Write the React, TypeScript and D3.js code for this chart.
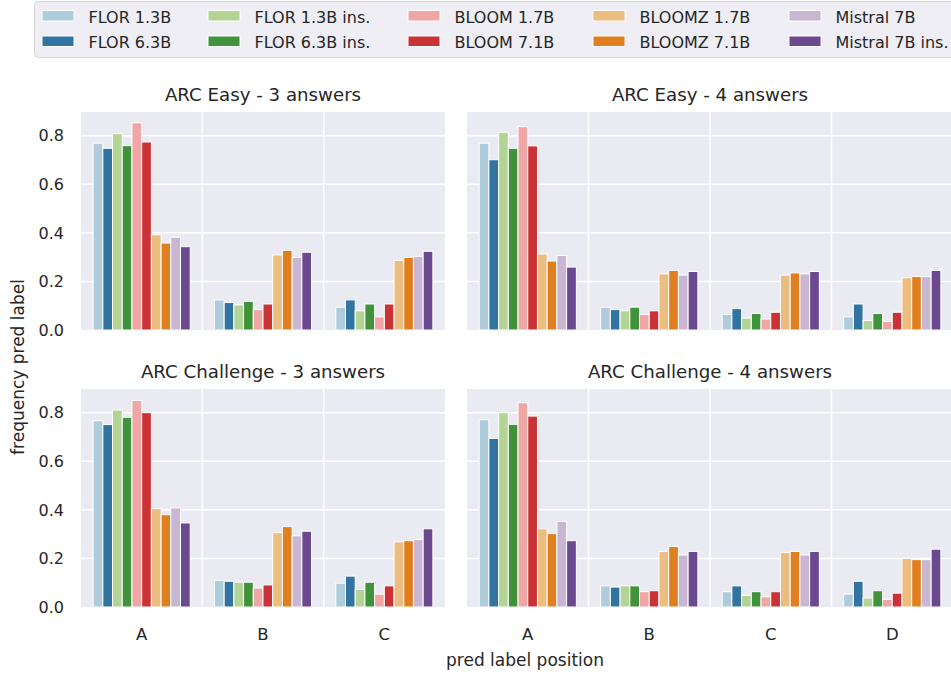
import React from 'react';
import * as d3 from 'd3';

// ---------- DATA ----------
const models = [
  'FLOR 1.3B', 'FLOR 6.3B', 'FLOR 1.3B ins.', 'FLOR 6.3B ins.',
  'BLOOM 1.7B', 'BLOOM 7.1B', 'BLOOMZ 1.7B', 'BLOOMZ 7.1B',
  'Mistral 7B', 'Mistral 7B ins.',
];
const baseColors = [
  '#a6cee3', '#1f78b4', '#b2df8a', '#33a02c', '#fb9a99',
  '#e31a1c', '#fdbf6f', '#ff7f00', '#cab2d6', '#6a3d9a',
];
const cats3 = ['A', 'B', 'C'];
const cats4 = ['A', 'B', 'C', 'D'];
const yTicks = [0, 0.2, 0.4, 0.6, 0.8];

// values[category][model]
const easy3 = [
  [0.769, 0.748, 0.808, 0.759, 0.853, 0.774, 0.392, 0.358, 0.382, 0.343],
  [0.124, 0.113, 0.103, 0.118, 0.084, 0.107, 0.309, 0.328, 0.299, 0.320],
  [0.094, 0.124, 0.079, 0.107, 0.054, 0.107, 0.286, 0.299, 0.303, 0.324],
];
const easy4 = [
  [0.769, 0.701, 0.814, 0.748, 0.837, 0.758, 0.313, 0.284, 0.307, 0.259],
  [0.094, 0.084, 0.079, 0.094, 0.064, 0.079, 0.231, 0.245, 0.226, 0.241],
  [0.064, 0.088, 0.049, 0.068, 0.045, 0.073, 0.226, 0.235, 0.231, 0.241],
  [0.054, 0.107, 0.039, 0.068, 0.035, 0.073, 0.215, 0.220, 0.220, 0.245],
];
const chal3 = [
  [0.767, 0.751, 0.811, 0.781, 0.850, 0.800, 0.405, 0.380, 0.408, 0.346],
  [0.110, 0.106, 0.102, 0.102, 0.078, 0.091, 0.306, 0.331, 0.293, 0.312],
  [0.098, 0.127, 0.072, 0.102, 0.053, 0.087, 0.268, 0.273, 0.278, 0.322],
];
const chal4 = [
  [0.771, 0.694, 0.800, 0.752, 0.841, 0.786, 0.322, 0.302, 0.352, 0.273],
  [0.087, 0.082, 0.087, 0.087, 0.063, 0.067, 0.229, 0.249, 0.214, 0.229],
  [0.063, 0.087, 0.048, 0.063, 0.042, 0.063, 0.224, 0.229, 0.214, 0.229],
  [0.053, 0.106, 0.037, 0.067, 0.031, 0.057, 0.200, 0.195, 0.195, 0.238],
];

// ---------- STYLE ----------
const FONT = '"DejaVu Sans", sans-serif';
const TEXT = '#262626';
const PANEL_BG = '#EAEAF2';
const colors = baseColors.map((c) => {
  const h = d3.hsl(c);
  h.s *= 0.75;
  return h.formatHex();
});

const YMAX = 0.8975;

type PanelDef = {
  title: string;
  cats: string[];
  values: number[][];
  x0: number; x1: number; y0: number; y1: number;
  showY: boolean; showX: boolean;
};

const panels: PanelDef[] = [
  { title: 'ARC Easy - 3 answers', cats: cats3, values: easy3, x0: 81, x1: 445, y0: 112, y1: 330, showY: true, showX: false },
  { title: 'ARC Easy - 4 answers', cats: cats4, values: easy4, x0: 467, x1: 953, y0: 112, y1: 330, showY: false, showX: false },
  { title: 'ARC Challenge - 3 answers', cats: cats3, values: chal3, x0: 81, x1: 445, y0: 389, y1: 607, showY: true, showX: true },
  { title: 'ARC Challenge - 4 answers', cats: cats4, values: chal4, x0: 467, x1: 953, y0: 389, y1: 607, showY: false, showX: true },
];

function Panel({ p }: { p: PanelDef }) {
  const x = d3.scaleBand<string>().domain(p.cats).range([p.x0, p.x1]).paddingInner(0).paddingOuter(0);
  const y = d3.scaleLinear().domain([0, YMAX]).range([p.y1, p.y0]);
  const bw = x.bandwidth();
  const inner = d3.scaleBand<number>()
    .domain(d3.range(models.length))
    .range([bw * 0.1, bw * 0.9])
    .padding(0);
  const boundaries = p.cats.slice(1).map((c) => x(c)!);
  return (
    <g>
      <rect x={p.x0} y={p.y0} width={p.x1 - p.x0} height={p.y1 - p.y0} fill={PANEL_BG} />
      {yTicks.slice(1).map((t) => (
        <line key={'h' + t} x1={p.x0} x2={p.x1} y1={y(t)} y2={y(t)} stroke="#fff" strokeWidth={1.5} />
      ))}
      {boundaries.map((bx, i) => (
        <line key={'v' + i} x1={bx} x2={bx} y1={p.y0} y2={p.y1} stroke="#fff" strokeWidth={1.5} />
      ))}
      {p.cats.map((c, ci) => (
        <g key={c}>
          {p.values[ci].map((v, mi) => (
            <rect
              key={mi}
              x={x(c)! + inner(mi)!}
              y={y(v)}
              width={inner.bandwidth()}
              height={y(0) - y(v)}
              fill={colors[mi]}
              stroke="#fff"
              strokeWidth={1}
            />
          ))}
        </g>
      ))}
      <text x={(p.x0 + p.x1) / 2} y={p.y0 - 11.5} textAnchor="middle" fontSize={18.2} fill={TEXT} fontFamily={FONT}>
        {p.title}
      </text>
      {p.showY && yTicks.map((t) => (
        <text key={'yt' + t} x={p.x0 - 17} y={y(t)} dy="0.36em" textAnchor="end" fontSize={16} fill={TEXT} fontFamily={FONT}>
          {t.toFixed(1)}
        </text>
      ))}
      {p.showX && p.cats.map((c) => (
        <text key={'xt' + c} x={x(c)! + bw / 2} y={p.y1 + 32.5} textAnchor="middle" fontSize={16.5} fill={TEXT} fontFamily={FONT}>
          {c}
        </text>
      ))}
    </g>
  );
}

const legendCols = [42, 208, 408, 593, 789];

function Legend() {
  return (
    <g>
      <rect x={34.5} y={1.5} width={940} height={56} rx={4} fill="#EEEEF4" stroke="#D6D6D6" strokeWidth={1} />
      {models.map((m, i) => {
        const col = Math.floor(i / 2);
        const row = i % 2;
        const hx = legendCols[col];
        const hy = row === 0 ? 10.5 : 36;
        return (
          <g key={m}>
            <rect x={hx} y={hy} width={32} height={10.5} fill={colors[i]} stroke="#fff" strokeWidth={1} />
            <text x={hx + 46.5} y={row === 0 ? 22.7 : 48.3} fontSize={16} fill={TEXT} fontFamily={FONT}>
              {m}
            </text>
          </g>
        );
      })}
    </g>
  );
}

export default function App() {
  return (
    <svg
      width={951}
      height={677}
      viewBox="0 0 951 677"
      style={{ position: 'absolute', left: 0, top: 0, display: 'block', background: '#fff' }}
    >
      <rect x={0} y={0} width={951} height={677} fill="#fff" />
      {panels.map((p) => (
        <Panel key={p.title} p={p} />
      ))}
      <Legend />
      <text x={525} y={666} textAnchor="middle" fontSize={17} fill={TEXT} fontFamily={FONT}>
        pred label position
      </text>
      <text
        transform="translate(24,367) rotate(-90)"
        textAnchor="middle"
        fontSize={17}
        fill={TEXT}
        fontFamily={FONT}
      >
        frequency pred label
      </text>
    </svg>
  );
}
